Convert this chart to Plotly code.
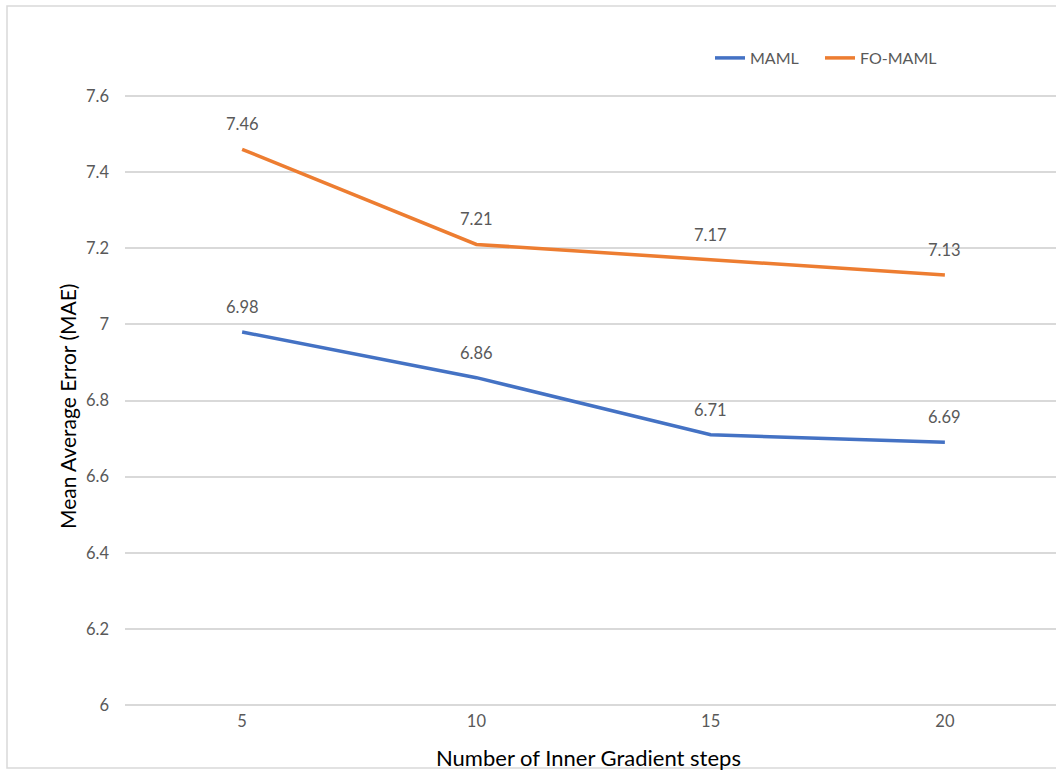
import plotly.graph_objects as go

# Inner gradient steps and mean average error per method
steps = [5, 10, 15, 20]
maml_mae = [6.98, 6.86, 6.71, 6.69]
fomaml_mae = [7.46, 7.21, 7.17, 7.13]
y_ticks = [6.0, 6.2, 6.4, 6.6, 6.8, 7.0, 7.2, 7.4, 7.6]
y_ticktext = ["6", "6.2", "6.4", "6.6", "6.8", "7", "7.2", "7.4", "7.6"]

W, H = 1056, 771
ML, MR, MT, MB = 125, 0, 92, 62
FONT = "Lato, Open Sans, sans-serif"
GRAY = "#595959"
BLUE = "#4472C4"
ORANGE = "#ED7D31"

fig = go.Figure()
fig.add_trace(go.Scatter(x=steps, y=maml_mae, mode="lines", name="MAML",
                         line=dict(color=BLUE, width=3.5), legend="legend"))
fig.add_trace(go.Scatter(x=steps, y=fomaml_mae, mode="lines", name="FO-MAML",
                         line=dict(color=ORANGE, width=3.5), legend="legend2"))

annotations = []
for series in (maml_mae, fomaml_mae):
    for xv, yv in zip(steps, series):
        annotations.append(dict(x=xv, y=yv, xref="x", yref="y", text=f"{yv:.2f}",
                                showarrow=False, yshift=25,
                                font=dict(family=FONT, size=16.5, color=GRAY)))

plot_w = W - ML - MR
plot_h = H - MT - MB

def px_to_paper_x(px):
    return (px - ML) / plot_w

def px_to_paper_y(py):
    return (H - MB - py) / plot_h

# Axis titles
annotations.append(dict(x=px_to_paper_x(588), y=px_to_paper_y(757), xref="paper", yref="paper",
                        xanchor="center", yanchor="middle",
                        text="Number of Inner Gradient steps", showarrow=False,
                        font=dict(family=FONT, size=22, color="#000000")))
annotations.append(dict(x=px_to_paper_x(67), y=px_to_paper_y(407), xref="paper", yref="paper",
                        xanchor="center", yanchor="middle",
                        text="Mean Average Error (MAE)", showarrow=False, textangle=-90,
                        font=dict(family=FONT, size=21, color="#000000")))

# Chart-area border
shapes = [dict(type="rect", xref="paper", yref="paper",
               x0=px_to_paper_x(7), x1=px_to_paper_x(1070),
               y0=px_to_paper_y(768), y1=px_to_paper_y(6),
               line=dict(color="#d9d9d9", width=1.5), fillcolor="rgba(0,0,0,0)", layer="below")]

legend_style = dict(orientation="h", xanchor="left", yanchor="middle", itemwidth=30,
                    font=dict(family=FONT, size=16, color=GRAY), bgcolor="rgba(0,0,0,0)")

fig.update_layout(
    width=W, height=H,
    margin=dict(l=ML, r=MR, t=MT, b=MB),
    paper_bgcolor="white", plot_bgcolor="white",
    font=dict(family=FONT, color=GRAY),
    showlegend=True,
    legend=dict(x=px_to_paper_x(710), y=px_to_paper_y(58), **legend_style),
    legend2=dict(x=px_to_paper_x(820), y=px_to_paper_y(58), **legend_style),
    xaxis=dict(range=[2.5, 2.5 + plot_w * 20 / 937], tickvals=steps,
               ticktext=[str(s) for s in steps], showgrid=False, zeroline=False,
               showline=False, ticks="", tickfont=dict(family=FONT, size=16.5, color=GRAY),
               fixedrange=True),
    yaxis=dict(range=[6 - 4 / 380.6, 7.6 + 4 / 380.6], tickvals=y_ticks, ticktext=y_ticktext,
               showgrid=True, gridcolor="#d9d9d9", gridwidth=1.5, zeroline=False,
               showline=False, ticks="", ticklabelstandoff=15,
               tickfont=dict(family=FONT, size=16.5, color=GRAY), fixedrange=True),
    annotations=annotations,
    shapes=shapes,
)

fig.write_html("out.html")
